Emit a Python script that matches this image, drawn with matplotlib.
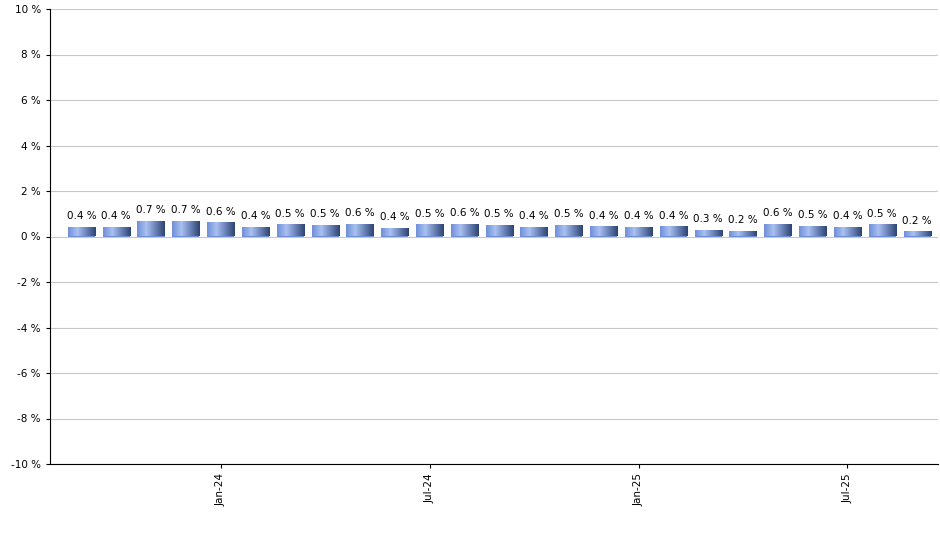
import numpy as np
import matplotlib.pyplot as plt
from matplotlib.colors import LinearSegmentedColormap

months = ["Sep-23", "Oct-23", "Nov-23", "Dec-23", "Jan-24", "Feb-24", "Mar-24", "Apr-24", "May-24",
          "Jun-24", "Jul-24", "Aug-24", "Sep-24", "Oct-24", "Nov-24", "Dec-24", "Jan-25", "Feb-25",
          "Mar-25", "Apr-25", "May-25", "Jun-25", "Jul-25", "Aug-25", "Sep-25"]
values = [0.43, 0.42, 0.68, 0.68, 0.62, 0.41, 0.54, 0.5, 0.55, 0.37, 0.54, 0.56, 0.5, 0.41, 0.5,
          0.45, 0.41, 0.45, 0.3, 0.24, 0.56, 0.46, 0.41, 0.54, 0.23]
labels = ["0.4 %", "0.4 %", "0.7 %", "0.7 %", "0.6 %", "0.4 %", "0.5 %", "0.5 %", "0.6 %", "0.4 %",
          "0.5 %", "0.6 %", "0.5 %", "0.4 %", "0.5 %", "0.4 %", "0.4 %", "0.4 %", "0.3 %", "0.2 %",
          "0.6 %", "0.5 %", "0.4 %", "0.5 %", "0.2 %"]
tick_months = ["Jan-24", "Jul-24", "Jan-25", "Jul-25"]

cmap = LinearSegmentedColormap.from_list("bar", ["#6f8fd8", "#a9c0f0", "#6a82b8", "#2e4470"])

fig = plt.figure(figsize=(9.4, 5.5), dpi=100)
ax = fig.add_axes([50/940, 86/550, 888/940, 455/550])
x = np.arange(len(values))
bars = ax.bar(x, values, width=0.78, color="#6f8fd8", edgecolor="none", zorder=2)
grad = np.linspace(0, 1, 100).reshape(1, -1)
for b in bars:
    im = ax.imshow(grad, cmap=cmap, aspect="auto", zorder=3,
                   extent=[b.get_x(), b.get_x() + b.get_width(), 0, b.get_height()])
    im.set_clip_path(b)
for xi, v, lab in zip(x, values, labels):
    ax.text(xi, v + 0.25, lab, ha="center", va="bottom", fontsize=7.5, zorder=4)

ax.set_xlim(-0.9, len(values) - 0.4)
ax.set_ylim(-10, 10)
ax.set_yticks(range(-10, 11, 2))
ax.set_yticklabels([f"{t} %" for t in range(-10, 11, 2)], fontsize=7.5)
ax.yaxis.grid(True, color="#c8c8c8", linewidth=0.8, zorder=0)
ax.set_xticks([months.index(m) for m in tick_months])
ax.set_xticklabels(tick_months, rotation=90, fontsize=7.5)
ax.tick_params(axis="both", length=3)
ax.spines["top"].set_visible(False)
ax.spines["right"].set_visible(False)
fig.savefig("out.png", dpi=100)
